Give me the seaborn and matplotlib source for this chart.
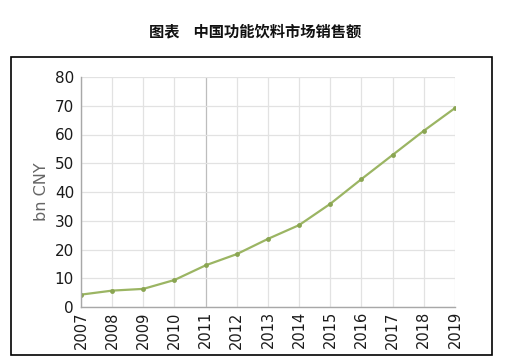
import matplotlib
matplotlib.use("Agg")
import matplotlib.pyplot as plt
import seaborn as sns
import pandas as pd
from matplotlib.patches import Rectangle

years = [2007, 2008, 2009, 2010, 2011, 2012, 2013, 2014, 2015, 2016, 2017, 2018, 2019]
sales = [4.3, 5.7, 6.3, 9.4, 14.5, 18.4, 23.7, 28.5, 35.9, 44.5, 52.9, 61.3, 69.2]
yticks = [0, 10, 20, 30, 40, 50, 60, 70, 80]
title = "图表    中国功能饮料市场销售额"
ylabel = "bn CNY"

sns.set_theme(style="white")
plt.rcParams['font.family'] = ['DejaVu Sans']

df = pd.DataFrame({"year": years, "sales": sales})

fig = plt.figure(figsize=(5.05, 3.62), dpi=100)
ax = fig.add_axes([81/505, 1-307/362, (455-81)/505, (307-77)/362])

sns.lineplot(data=df, x="year", y="sales", ax=ax, color="#9bb563", linewidth=1.6,
             marker="o", markersize=3.5, markeredgewidth=0, markerfacecolor="#8aa552")

ax.set_xlim(years[0], years[-1])
ax.set_ylim(0, 80)
ax.set_xticks(years)
ax.set_xticklabels([str(y) for y in years], rotation=90, fontsize=10.5, color="#1a1a1a")
ax.set_yticks(yticks)
ax.set_yticklabels([str(v) for v in yticks], fontsize=11, color="#1a1a1a")
ax.set_xlabel("")
ax.set_ylabel(ylabel, fontsize=11.5, color="#666666", labelpad=4)

ax.grid(True, color="#e2e2e2", linewidth=0.9)
for gl in ax.get_xgridlines():
    if abs(gl.get_xdata()[0] - 2011) < 1e-6:
        gl.set_color("#bdbdbd")
for side in ["top", "right"]:
    ax.spines[side].set_visible(False)
for side in ["left", "bottom"]:
    ax.spines[side].set_color("#a8a8a8")
    ax.spines[side].set_linewidth(1.0)
ax.tick_params(axis="both", length=3, color="#a8a8a8", pad=2)
ax.tick_params(axis="x", length=0, pad=3)

fig.text(255/505, 1-31/362, title, ha="center", va="center", fontsize=11,
         fontweight="heavy", family=["Noto Sans CJK SC", "DejaVu Sans"], color="#111111")

fig.patches.append(Rectangle((11/505, 1-355/362), (492-11)/505, (355-57)/362,
                             transform=fig.transFigure, fill=False,
                             edgecolor="black", linewidth=1.2))

fig.savefig("out.png", dpi=100)
